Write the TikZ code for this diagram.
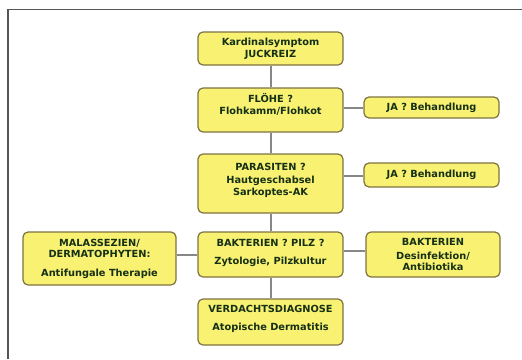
\documentclass[tikz,border=0pt]{standalone}
\usepackage{fontspec}
\setmainfont{DejaVu Sans}
\definecolor{boxfill}{RGB}{248,241,114}
\definecolor{boxline}{RGB}{125,115,65}
\definecolor{txt}{RGB}{22,48,22}
\definecolor{conn}{RGB}{135,135,135}
\definecolor{frame}{RGB}{85,85,85}
\tikzset{
  box/.style={draw=boxline, line width=1.2pt, fill=boxfill, rounded corners=5pt,
    inner sep=0pt, align=center, text=txt,
    font=\fontsize{9.8}{12}\selectfont\bfseries},
  conline/.style={draw=conn, line width=2pt}
}
\begin{document}
\begin{tikzpicture}[x=1pt,y=-1pt]
\useasboundingbox (0,0) rectangle (522,359);
\draw[frame, line width=1.2pt] (8,359) -- (8,9.5) -- (522,9.5);

\node[box, minimum width=145pt, minimum height=33pt] (k) at (270.5,48.5)
  {Kardinalsymptom\\JUCKREIZ};
\node[box, minimum width=145pt, minimum height=44pt] (f) at (270.5,110)
  {FLÖHE ?\\Flohkamm/Flohkot\\\mbox{}};
\node[box, minimum width=135pt, minimum height=21pt] (ja1) at (431.5,107.5)
  {JA ? Behandlung};
\node[box, minimum width=145pt, minimum height=59pt] (p) at (270.5,183.5)
  {PARASITEN ?\\[1pt]Hautgeschabsel\\Sarkoptes-AK\\[-4pt]\mbox{}};
\node[box, minimum width=135pt, minimum height=24pt] (ja2) at (431.5,175)
  {JA ? Behandlung};
\node[box, minimum width=145pt, minimum height=45pt] (b) at (270.5,254.5)
  {BAKTERIEN ? PILZ ?\\[6pt]Zytologie, Pilzkultur\\[-6pt]\mbox{}};
\node[box, minimum width=153pt, minimum height=53pt] (m) at (99.5,258.5)
  {MALASSEZIEN/\\[-1pt]DERMATOPHYTEN:\\[7pt]Antifungale Therapie};
\node[box, minimum width=134pt, minimum height=45pt] (br) at (433,254.5)
  {BAKTERIEN\\[2pt]Desinfektion/\\[-1pt]Antibiotika};
\node[box, minimum width=145pt, minimum height=46pt] (v) at (270.5,322)
  {VERDACHTSDIAGNOSE\\[6pt]Atopische Dermatitis\\[-4pt]\mbox{}};

\draw[conline] (k.south) -- (f.north);
\draw[conline] (f.south) -- (p.north);
\draw[conline] (p.south) -- (b.north);
\draw[conline] (b.south) -- (v.north);
\draw[conline] (f.east |- ja1.west) -- (ja1.west);
\draw[conline] (p.east |- 0,176) -- (ja2.west |- 0,176);
\draw[conline] (b.west |- 0,255) -- (m.east |- 0,255);
\draw[conline] (b.east |- 0,251) -- (br.west |- 0,251);
\end{tikzpicture}
\end{document}
